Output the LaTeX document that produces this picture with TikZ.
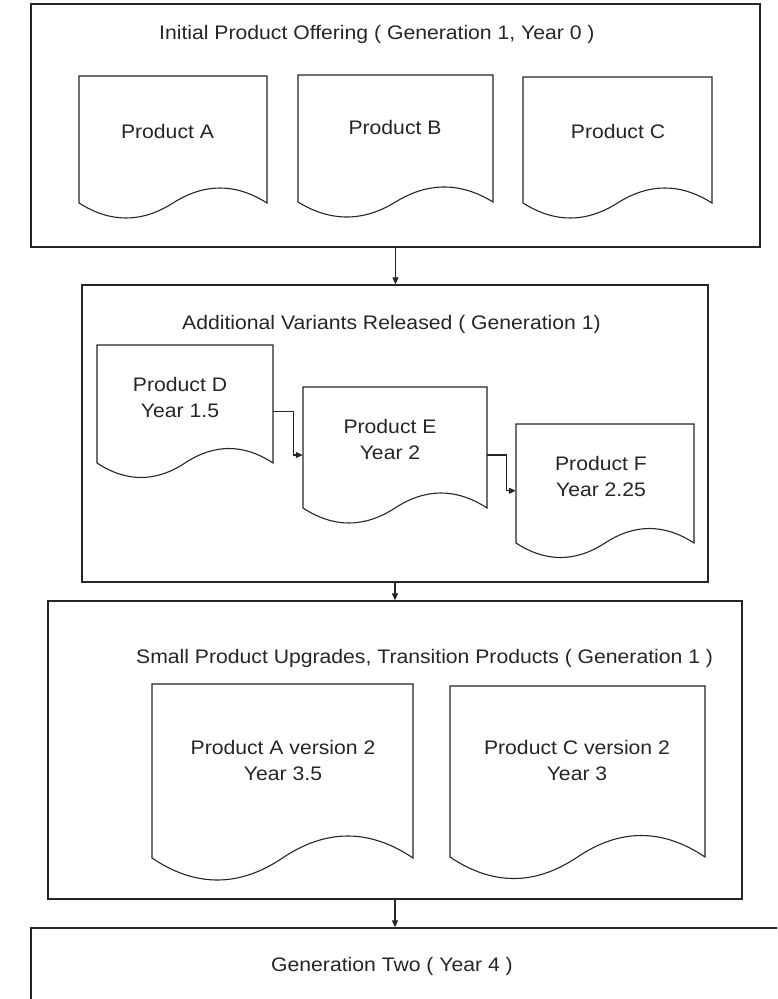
\documentclass[tikz,border=0pt]{standalone}
\usepackage{fontspec}
\setmainfont{Liberation Sans}[FakeStretch=1.08]
\usetikzlibrary{arrows.meta,fit,calc}
\newcommand\docshape[6]{% #1 name, #2 x1, #3 ytop, #4 x2, #5 side bottom, #6 amplitude
  \node[fit={(#2,#3) ({#4},{#5+#6})}, inner sep=0pt] (#1) {};
  \draw[docline] (#2,#5) -- (#2,#3) -- (#4,#3) -- (#4,#5)
    .. controls ({#4-(#4-#2)/6},{#5-4*#6/3}) and ({#4-(#4-#2)/3},{#5-4*#6/3}) .. ({(#2+#4)/2},#5)
    .. controls ({#2+(#4-#2)/3},{#5+4*#6/3}) and ({#2+(#4-#2)/6},{#5+4*#6/3}) .. (#2,#5) -- cycle;
}
\begin{document}
\begin{tikzpicture}[x=1pt,y=-1pt,
  boxline/.style={draw=black!85, line width=1.3pt},
  docline/.style={draw=black!85, line width=1.1pt, line join=miter},
  txt/.style={font=\fontsize{19.6}{26}\selectfont, inner sep=0pt, text=black!85},
  conn/.style={draw=black!85, line width=1.1pt, -{Triangle[length=7pt,width=6pt]}},
]
\useasboundingbox (0,0) rectangle (777,999);
\clip (0,0) rectangle (777,999);
\fill[white] (0,0) rectangle (777,999);

% outer boxes
\node[fit={(31,4) (760,247)}, inner sep=0pt, boxline] (b1) {};
\node[fit={(82,285) (708,582)}, inner sep=0pt, boxline] (b2) {};
\node[fit={(48,601) (742,899)}, inner sep=0pt, boxline] (b3) {};
\node[fit={(31,928) (820,1030)}, inner sep=0pt, boxline] (b4) {};

% titles
\node[txt, anchor=base west] (t1) at (159,39.5) {Initial Product Offering ( Generation 1, Year 0 )};
\node[txt, anchor=base west] (t2) at (182,329) {Additional Variants Released ( Generation 1)};
\node[txt, anchor=base west] (t3) at (136,663) {Small Product Upgrades, Transition Products ( Generation 1 )};
\node[txt, anchor=base west] (t4) at (271,971) {Generation Two ( Year 4 )};

% documents
\docshape{dA}{79}{76}{267}{203}{15}
\docshape{dB}{298}{75}{493}{202}{15}
\docshape{dC}{523}{77}{712}{203}{15}
\docshape{dD}{97}{345}{273}{463}{14.5}
\docshape{dE}{303}{387}{487}{508}{15}
\docshape{dF}{516}{424}{694}{543}{14.5}
\docshape{dAv}{152}{684}{413}{858}{22}
\docshape{dCv}{450}{686}{705}{857}{21.5}

% document texts
\node[txt, anchor=base] (pA) at (167.5,138) {Product A};
\node[txt, anchor=base] (pB) at (395,134) {Product B};
\node[txt, anchor=base] (pC) at (618,138) {Product C};
\node[txt, align=center] (pD) at (180,397) {Product D\\Year 1.5};
\node[txt, align=center] (pE) at (390,439) {Product E\\Year 2};
\node[txt, align=center] (pF) at (601,476) {Product F\\Year 2.25};
\node[txt, align=center] (pAv) at (283,760.7) {Product A version 2\\Year 3.5};
\node[txt, align=center] (pCv) at (577,760.7) {Product C version 2\\Year 3};

% connectors
\draw[conn] (b1.south) -- (b1.south |- b2.north);
\draw[conn] (b2.south) -- (b2.south |- b3.north);
\draw[conn] (b3.south) -- (b3.south |- b4.north);
\draw[conn] (dD.east) -- ++(20,0) |- (dE.west);
\draw[conn] (dE.east) -- ++(19,0) |- (dF.west);
\end{tikzpicture}
\end{document}
